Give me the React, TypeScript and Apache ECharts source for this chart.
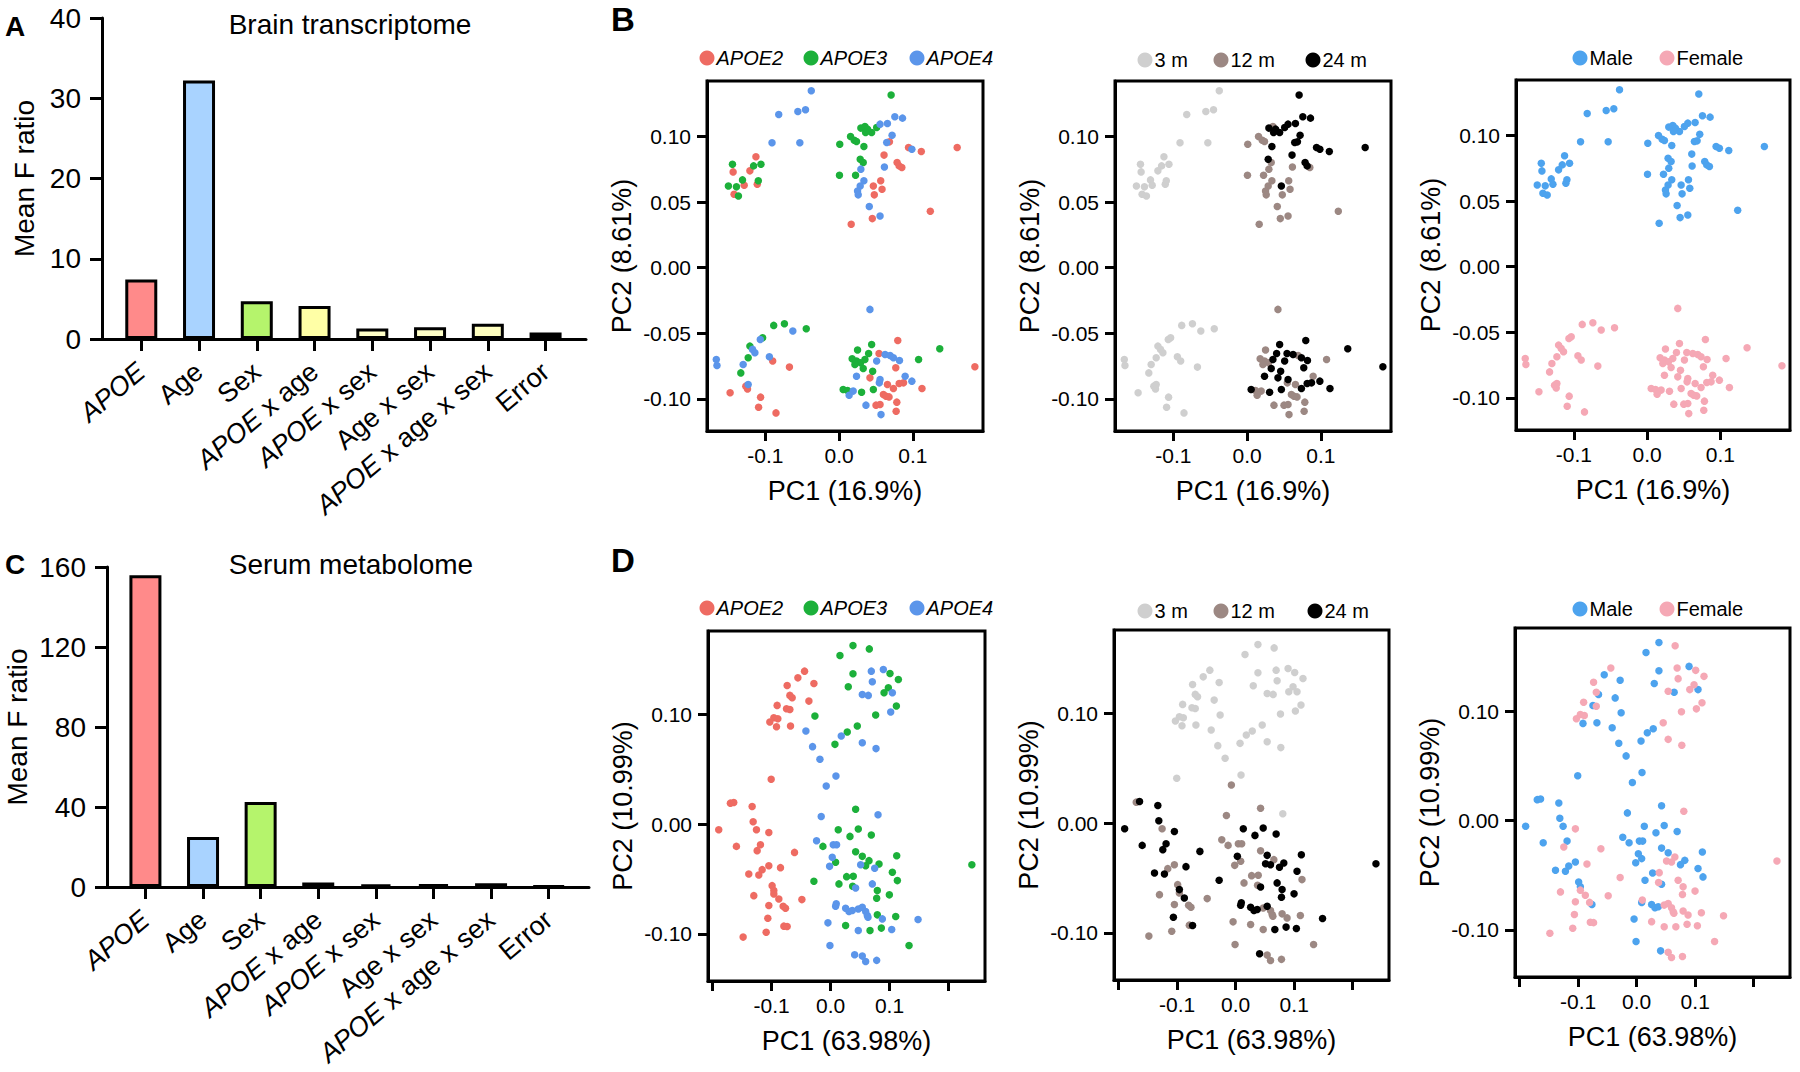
import React, { useEffect, useRef } from "react";
import * as echarts from "echarts";

const FONT = "'Liberation Sans', Arial, Helvetica, sans-serif";

// ---------- Panel A / C data ----------
const factors = ["APOE", "Age", "Sex", "APOE x age", "APOE x sex", "Age x sex", "APOE x age x sex", "Error"];
const brainF = [7.4, 32.2, 4.7, 4.1, 1.3, 1.45, 1.9, 0.8];
const serumF = [155.9, 25.0, 42.5, 2.2, 1.35, 1.4, 1.9, 0.5];
const barColors = ["#FF8A8A", "#A9D3FF", "#B5F46C", "#FFFFA6", "#FFFFC8", "#FFFFC8", "#FFFFC0", "#000000"];
const brainTicks = [0, 10, 20, 30, 40];
const serumTicks = [0, 40, 80, 120, 160];

// ---------- Panel B data: [PC1, PC2, genotype, age (months), sex] ----------
type Sample = [number, number, number, number, string];
const brainSamples: Sample[] = [
  // upper-left cluster
  [-0.0377, 0.1349, 4, 3, "M"], [-0.0818, 0.1168, 4, 3, "M"], [-0.0559, 0.1191, 4, 3, "M"], [-0.0455, 0.1204, 4, 3, "M"],
  [-0.0909, 0.0952, 4, 3, "M"], [-0.0532, 0.0952, 4, 3, "M"], [-0.1445, 0.0789, 3, 3, "M"], [-0.1436, 0.073, 2, 3, "M"],
  [-0.1127, 0.0845, 2, 3, "M"], [-0.1159, 0.0776, 3, 3, "M"], [-0.1059, 0.0789, 3, 3, "M"], [-0.1209, 0.0738, 2, 3, "M"],
  [-0.1309, 0.0669, 3, 3, "M"], [-0.1286, 0.0628, 2, 3, "M"], [-0.15, 0.0623, 3, 3, "M"], [-0.1391, 0.0616, 3, 3, "M"],
  [-0.1423, 0.056, 2, 3, "M"], [-0.1364, 0.0547, 3, 3, "M"], [-0.1095, 0.0662, 3, 3, "M"], [-0.1109, 0.0636, 2, 3, "M"],
  // upper-right cluster
  [0.0705, 0.1316, 3, 24, "M"], [0.0655, 0.1099, 4, 24, "M"], [0.0755, 0.115, 4, 24, "M"], [0.0859, 0.114, 4, 24, "M"],
  [0.0555, 0.1094, 4, 24, "M"], [0.0295, 0.1064, 3, 24, "M"], [0.035, 0.1076, 3, 12, "M"], [0.0386, 0.1056, 3, 24, "M"],
  [0.0441, 0.103, 3, 24, "M"], [0.0509, 0.1069, 3, 24, "M"], [0.0359, 0.103, 3, 24, "M"], [0.0155, 0.1, 3, 12, "M"],
  [0.0205, 0.0972, 3, 12, "M"], [0.0009, 0.0941, 3, 12, "M"], [0.0236, 0.0962, 3, 12, "M"], [0.0336, 0.0924, 3, 24, "M"],
  [0.0718, 0.101, 4, 24, "M"], [0.0682, 0.0959, 2, 24, "M"], [0.0645, 0.0954, 4, 24, "M"], [0.0941, 0.0916, 2, 24, "M"],
  [0.0986, 0.0903, 4, 24, "M"], [0.1114, 0.0885, 2, 24, "M"], [0.16, 0.0916, 2, 24, "M"], [0.0286, 0.0827, 3, 24, "M"],
  [0.0327, 0.0802, 3, 12, "M"], [0.0609, 0.0858, 2, 24, "M"], [0.0786, 0.0802, 2, 24, "M"], [0.0814, 0.0776, 2, 24, "M"],
  [0.085, 0.0763, 2, 12, "M"], [0.0614, 0.0768, 4, 12, "M"], [0.0295, 0.0751, 4, 12, "M"], [0.0005, 0.0705, 3, 12, "M"],
  [0.0223, 0.0705, 3, 12, "M"], [0.0336, 0.0662, 4, 12, "M"], [0.0286, 0.0623, 4, 12, "M"], [0.0564, 0.0662, 2, 12, "M"],
  [0.0464, 0.0623, 2, 24, "M"], [0.0582, 0.0598, 2, 12, "M"], [0.025, 0.0585, 4, 12, "M"], [0.0259, 0.0555, 4, 12, "M"],
  [0.0477, 0.0555, 2, 12, "M"], [0.0409, 0.0466, 4, 12, "M"], [0.045, 0.0374, 2, 12, "M"], [0.0555, 0.0394, 4, 12, "M"],
  [0.0164, 0.0331, 2, 12, "M"], [0.1236, 0.043, 2, 12, "M"],
  // lower-left cluster
  [-0.0886, -0.044, 3, 3, "F"], [-0.0741, -0.0427, 3, 3, "F"], [-0.0627, -0.0483, 4, 3, "F"], [-0.0445, -0.0466, 3, 3, "F"],
  [-0.1036, -0.0534, 3, 3, "F"], [-0.1068, -0.0547, 4, 3, "F"], [-0.1209, -0.0598, 3, 3, "F"], [-0.1173, -0.0623, 4, 3, "F"],
  [-0.1141, -0.0649, 4, 3, "F"], [-0.1232, -0.0687, 3, 3, "F"], [-0.0945, -0.0679, 4, 3, "F"], [-0.09, -0.0712, 2, 3, "F"],
  [-0.0673, -0.0758, 2, 3, "F"], [-0.1664, -0.07, 4, 3, "F"], [-0.1655, -0.0746, 4, 3, "F"], [-0.13, -0.0738, 4, 3, "F"],
  [-0.1332, -0.0802, 3, 3, "F"], [-0.1264, -0.0903, 2, 3, "F"], [-0.1241, -0.0924, 2, 3, "F"], [-0.1232, -0.0891, 4, 3, "F"],
  [-0.1477, -0.0954, 2, 3, "F"], [-0.1064, -0.0987, 2, 3, "F"], [-0.1091, -0.1064, 2, 3, "F"], [-0.0855, -0.1107, 2, 3, "F"],
  // lower-right cluster
  [0.0418, -0.0318, 4, 12, "F"], [0.0441, -0.0585, 3, 24, "F"], [0.0795, -0.0555, 2, 24, "F"], [0.1364, -0.0618, 3, 24, "F"],
  [0.184, -0.0755, 2, 24, "F"], [0.025, -0.0628, 3, 12, "F"], [0.0177, -0.0695, 3, 12, "F"], [0.0236, -0.0712, 3, 12, "F"],
  [0.0291, -0.0725, 3, 12, "F"], [0.035, -0.07, 3, 24, "F"], [0.04, -0.0654, 3, 24, "F"], [0.0214, -0.0738, 3, 12, "F"],
  [0.0327, -0.0768, 3, 24, "F"], [0.0509, -0.0712, 4, 24, "F"], [0.0541, -0.0654, 2, 24, "F"], [0.0623, -0.0662, 4, 24, "F"],
  [0.0691, -0.0669, 4, 12, "F"], [0.0736, -0.0687, 4, 24, "F"], [0.0818, -0.0707, 4, 24, "F"], [0.1077, -0.07, 3, 12, "F"],
  [0.0768, -0.0763, 2, 24, "F"], [0.0455, -0.0789, 3, 24, "F"], [0.0236, -0.0827, 4, 24, "F"], [0.0418, -0.084, 2, 24, "F"],
  [0.0555, -0.0852, 4, 24, "F"], [0.0545, -0.0878, 4, 12, "F"], [0.0655, -0.0891, 2, 12, "F"], [0.0895, -0.0827, 4, 12, "F"],
  [0.0986, -0.0865, 4, 24, "F"], [0.0873, -0.0878, 2, 24, "F"], [0.0814, -0.0883, 2, 24, "F"], [0.1123, -0.0921, 2, 24, "F"],
  [0.0736, -0.0921, 2, 24, "F"], [0.0055, -0.0929, 3, 24, "F"], [0.0114, -0.0936, 3, 12, "F"], [0.0305, -0.0949, 3, 24, "F"],
  [0.0191, -0.0941, 4, 12, "F"], [0.0136, -0.0972, 4, 12, "F"], [0.0464, -0.0929, 3, 24, "F"], [0.06, -0.0967, 2, 12, "F"],
  [0.0636, -0.098, 2, 12, "F"], [0.0677, -0.0985, 2, 12, "F"], [0.05, -0.1048, 2, 12, "F"], [0.0555, -0.1043, 2, 12, "F"],
  [0.0364, -0.1048, 4, 12, "F"], [0.0782, -0.1025, 2, 12, "F"], [0.0773, -0.1094, 2, 12, "F"], [0.0568, -0.112, 4, 12, "F"],
];

// ---------- Panel D data: [PC1, PC2, genotype, age (months), sex] ----------
const serumSamples: Sample[] = [
  // APOE2
  [-0.0442, 0.1394, 2, 3, "F"], [-0.0555, 0.1333, 2, 3, "M"], [-0.0283, 0.1282, 2, 3, "M"], [-0.0737, 0.1264, 2, 3, "F"],
  [-0.0691, 0.1173, 2, 3, "F"], [-0.0652, 0.1152, 2, 3, "M"], [-0.0368, 0.1121, 2, 3, "M"], [-0.0907, 0.1082, 2, 3, "F"],
  [-0.0748, 0.1052, 2, 3, "M"], [-0.0691, 0.1045, 2, 3, "F"], [-0.0963, 0.097, 2, 3, "F"], [-0.0895, 0.0961, 2, 3, "F"],
  [-0.1031, 0.093, 2, 3, "F"], [-0.0918, 0.0888, 2, 3, "M"], [-0.068, 0.0894, 2, 3, "M"], [-0.1008, 0.0409, 2, 3, "M"],
  [-0.17, 0.0191, 2, 12, "M"], [-0.1643, 0.0197, 2, 24, "M"], [-0.1331, 0.0161, 2, 24, "M"], [-0.1898, -0.0052, 2, 24, "M"],
  [-0.1314, 0.0021, 2, 24, "M"], [-0.1258, -0.0052, 2, 12, "M"], [-0.1048, -0.0076, 2, 24, "F"], [-0.1598, -0.0203, 2, 24, "M"],
  [-0.119, -0.0188, 2, 24, "M"], [-0.1246, -0.0242, 2, 24, "F"], [-0.0612, -0.0258, 2, 24, "F"], [-0.1048, -0.0379, 2, 12, "M"],
  [-0.085, -0.0397, 2, 24, "F"], [-0.1161, -0.0415, 2, 12, "M"], [-0.1388, -0.0455, 2, 24, "M"], [-0.1218, -0.0464, 2, 24, "M"],
  [-0.0992, -0.0561, 2, 12, "M"], [-0.0963, -0.0606, 2, 24, "M"], [-0.0963, -0.0636, 2, 12, "F"], [-0.1303, -0.0652, 2, 12, "F"],
  [-0.0878, -0.0682, 2, 24, "F"], [-0.0487, -0.0688, 2, 12, "F"], [-0.1048, -0.0742, 2, 12, "F"], [-0.0805, -0.0748, 2, 12, "F"],
  [-0.0765, -0.0767, 2, 12, "M"], [-0.1065, -0.0858, 2, 24, "F"], [-0.0793, -0.093, 2, 12, "F"], [-0.0737, -0.0933, 2, 24, "F"],
  [-0.1093, -0.0985, 2, 12, "F"], [-0.1484, -0.103, 2, 12, "F"],
  // APOE3
  [0.038, 0.1627, 3, 3, "M"], [0.0657, 0.1597, 3, 3, "F"], [0.0159, 0.1536, 3, 3, "M"], [0.038, 0.137, 3, 3, "M"],
  [0.1008, 0.1373, 3, 3, "F"], [0.115, 0.1318, 3, 3, "F"], [0.03, 0.1252, 3, 3, "M"], [0.098, 0.1242, 3, 3, "F"],
  [0.0907, 0.1197, 3, 3, "F"], [0.1116, 0.1076, 3, 3, "F"], [0.0765, 0.0994, 3, 3, "F"], [-0.0266, 0.0985, 3, 3, "M"],
  [0.0453, 0.0894, 3, 3, "F"], [0.0283, 0.0839, 3, 3, "M"], [0.0074, 0.0727, 3, 3, "M"], [0.0425, 0.0136, 3, 12, "M"],
  [0.013, -0.0052, 3, 24, "M"], [0.047, -0.0045, 3, 24, "M"], [0.0329, -0.0112, 3, 24, "M"], [0.0691, -0.01, 3, 24, "M"],
  [-0.013, -0.0203, 3, 12, "M"], [0.0425, -0.0252, 3, 12, "M"], [0.0538, -0.0294, 3, 24, "M"], [0.0652, -0.0333, 3, 12, "F"],
  [0.0822, -0.0364, 3, 24, "M"], [0.1122, -0.0288, 3, 24, "M"], [0.0085, -0.0348, 3, 12, "M"], [0.0595, -0.0379, 3, 24, "F"],
  [0.2397, -0.037, 3, 24, "F"], [0.1048, -0.0439, 3, 24, "M"], [0.1133, -0.0515, 3, 12, "M"], [-0.0283, -0.0521, 3, 24, "F"],
  [0.0272, -0.0479, 3, 12, "M"], [0.0385, -0.0476, 3, 12, "F"], [0.0142, -0.0545, 3, 12, "M"], [0.0374, -0.0567, 3, 12, "F"],
  [0.0793, -0.0606, 3, 24, "F"], [0.0997, -0.0645, 3, 24, "F"], [0.0782, -0.0676, 3, 24, "F"], [0.0793, -0.0827, 3, 12, "F"],
  [0.1105, -0.0842, 3, 12, "F"], [0.0255, -0.0924, 3, 12, "F"], [0.0861, -0.0948, 3, 24, "F"], [0.0669, -0.097, 3, 24, "F"],
  [0.1331, -0.1106, 3, 12, "F"],
  // APOE4
  [0.0691, 0.1394, 4, 3, "F"], [0.0895, 0.1409, 4, 3, "M"], [0.0708, 0.1297, 4, 3, "F"], [0.0538, 0.1182, 4, 3, "F"],
  [0.064, 0.1173, 4, 3, "M"], [0.1048, 0.1197, 4, 3, "M"], [0.102, 0.1021, 4, 3, "F"], [-0.0419, 0.0848, 4, 3, "M"],
  [0.0181, 0.0803, 4, 3, "M"], [0.0538, 0.0742, 4, 3, "F"], [0.0771, 0.0688, 4, 3, "F"], [-0.0306, 0.0706, 4, 3, "M"],
  [-0.0181, 0.0591, 4, 3, "M"], [0.0091, 0.0439, 4, 3, "M"], [-0.0074, 0.0348, 4, 12, "M"], [-0.0159, 0.007, 4, 12, "M"],
  [0.0805, 0.0085, 4, 3, "F"], [-0.0238, -0.0152, 4, 12, "M"], [0.0045, -0.0188, 4, 12, "M"], [0.0102, -0.0188, 4, 12, "M"],
  [0.0028, -0.0303, 4, 24, "M"], [-0.0017, -0.0385, 4, 12, "M"], [0.051, -0.037, 4, 24, "F"], [0.0748, -0.0403, 4, 24, "M"],
  [0.0425, -0.0582, 4, 24, "M"], [0.0708, -0.0545, 4, 24, "F"], [0.0096, -0.0727, 4, 24, "F"], [0.0085, -0.0748, 4, 24, "M"],
  [0.0255, -0.0767, 4, 24, "M"], [0.0312, -0.0797, 4, 24, "M"], [0.0368, -0.0788, 4, 24, "M"], [0.047, -0.0773, 4, 12, "F"],
  [0.0538, -0.0758, 4, 24, "F"], [0.0595, -0.0797, 4, 12, "F"], [0.0623, -0.0833, 4, 12, "F"], [0.0635, -0.0848, 4, 12, "F"],
  [0.0878, -0.0864, 4, 12, "F"], [0.1484, -0.087, 4, 24, "F"], [-0.0045, -0.09, 4, 12, "M"], [0.1037, -0.0961, 4, 24, "F"],
  [0.047, -0.097, 4, 12, "F"], [-0.0011, -0.1106, 4, 12, "M"], [0.0408, -0.1191, 4, 24, "M"], [0.0538, -0.1203, 4, 12, "F"],
  [0.0595, -0.1252, 4, 12, "F"], [0.0782, -0.1242, 4, 12, "F"],
];

// ---------- groups & colours ----------
const genotypes = [2, 3, 4];
const genotypeNames = ["APOE2", "APOE3", "APOE4"];
const genotypeColors = ["#EE6B62", "#1CB03A", "#5B95EA"];
const ages = [3, 12, 24];
const ageNames = ["3 m", "12 m", "24 m"];
const ageColors = ["#CFCFCF", "#9C8883", "#000000"];
const sexes = ["M", "F"];
const sexNames = ["Male", "Female"];
const sexColors = ["#4DA3EE", "#F5A8B5"];

const brainPC1Ticks = [-0.1, 0, 0.1];
const brainPC2Ticks = [-0.1, -0.05, 0, 0.05, 0.1];
const serumPC1Ticks = [-0.2, -0.1, 0, 0.1, 0.2];
const serumPC1Labels = [-0.1, 0, 0.1];
const serumPC2Ticks = [-0.1, 0, 0.1];

const BLACK = "#000";

function barPanel(gridIndex: number, values: number[], ticks: number[], xMin: number, nameGap: number) {
  const max = ticks[ticks.length - 1];
  const idx = factors.map((_, i) => i);
  const xAxis = {
    type: "value", gridIndex, min: xMin, max: 7.7,
    axisLine: { show: true, onZero: false, lineStyle: { color: BLACK, width: 3 } },
    axisTick: { show: true, length: 12, lineStyle: { color: BLACK, width: 3 }, customValues: idx },
    axisLabel: {
      customValues: idx, rotate: 40, margin: 29, fontSize: 27, color: BLACK, fontFamily: FONT,
      formatter: (v: number) => factors[Math.round(v)].replace("APOE", "{i|APOE}"),
      rich: { i: { fontStyle: "italic", fontSize: 27, color: BLACK, fontFamily: FONT } },
    },
    splitLine: { show: false },
  };
  const yAxis = {
    type: "value", gridIndex, min: 0, max,
    axisLine: { show: true, onZero: false, lineStyle: { color: BLACK, width: 3 } },
    axisTick: { show: true, length: 12, lineStyle: { color: BLACK, width: 3 }, customValues: ticks },
    axisLabel: { customValues: ticks, margin: 21, fontSize: 28, color: BLACK, fontFamily: FONT },
    splitLine: { show: false },
    name: "Mean F ratio", nameLocation: "middle", nameGap,
    nameTextStyle: { fontSize: 28, color: BLACK, fontFamily: FONT },
  };
  const series = {
    type: "bar", xAxisIndex: gridIndex, yAxisIndex: gridIndex, barWidth: 32,
    data: values.map((v, i) => ({ value: [i, v], itemStyle: { color: barColors[i], borderColor: BLACK, borderWidth: 3 } })),
  };
  return { xAxis, yAxis, series };
}

interface ScatterDef {
  grid: { left: number; top: number; width: number; height: number };
  xr: [number, number]; yr: [number, number];
  xTicks: number[]; xLabels: number[]; yTicks: number[]; yDigits: number;
  xName: string; yName: string;
}

function scatterAxes(gridIndex: number, d: ScatterDef) {
  const xAxis = {
    type: "value", gridIndex, min: d.xr[0], max: d.xr[1], position: "bottom",
    axisLine: { show: true, onZero: false, lineStyle: { color: BLACK, width: 3 } },
    axisTick: { show: true, length: 10, lineStyle: { color: BLACK, width: 3 }, customValues: d.xTicks },
    axisLabel: { customValues: d.xLabels, margin: 14, fontSize: 21, color: BLACK, fontFamily: FONT, formatter: (v: number) => v.toFixed(1) },
    splitLine: { show: false },
    name: d.xName, nameLocation: "middle", nameGap: 46,
    nameTextStyle: { fontSize: 27, color: BLACK, fontFamily: FONT },
  };
  const yAxis = {
    type: "value", gridIndex, min: d.yr[0], max: d.yr[1], position: "left",
    axisLine: { show: true, onZero: false, lineStyle: { color: BLACK, width: 3 } },
    axisTick: { show: true, length: 10, lineStyle: { color: BLACK, width: 3 }, customValues: d.yTicks },
    axisLabel: { customValues: d.yTicks, margin: 16, fontSize: 21, color: BLACK, fontFamily: FONT, formatter: (v: number) => v.toFixed(d.yDigits) },
    splitLine: { show: false },
    name: d.yName, nameLocation: "middle", nameGap: 72,
    nameTextStyle: { fontSize: 27, color: BLACK, fontFamily: FONT },
  };
  return { xAxis, yAxis };
}

function scatterSeries(gridIndex: number, samples: Sample[], field: number, keys: (number | string)[], names: string[], colors: string[]) {
  return keys.map((k, i) => ({
    type: "scatter", name: names[i], xAxisIndex: gridIndex, yAxisIndex: gridIndex,
    symbol: "circle", symbolSize: 7.5, itemStyle: { color: colors[i], opacity: 1 },
    data: samples.filter((s) => s[field] === k).map((s) => [s[0], s[1]]),
  }));
}

function legendItem(name: string, cx: number, cy: number, italic: boolean) {
  return {
    data: [name], left: cx - 7.5, top: cy - 10, padding: 0, itemGap: 0,
    itemWidth: 15, itemHeight: 15, icon: "circle", selectedMode: false,
    textStyle: { fontSize: 20, color: BLACK, fontFamily: FONT, fontStyle: italic ? "italic" : "normal", padding: [0, 0, 0, -3] },
  };
}

function buildOption() {
  const A = barPanel(0, brainF, brainTicks, -0.68, 64);
  const C = barPanel(1, serumF, serumTicks, -0.667, 76);

  const bRange = { xr: [-0.179, 0.195] as [number, number], yr: [-0.1245, 0.1423] as [number, number] };
  const dRange = { xr: [-0.208, 0.262] as [number, number], yr: [-0.143, 0.176] as [number, number] };
  const bCommon = { ...bRange, xTicks: brainPC1Ticks, xLabels: brainPC1Ticks, yTicks: brainPC2Ticks, yDigits: 2, xName: "PC1 (16.9%)", yName: "PC2 (8.61%)" };
  const dCommon = { ...dRange, xTicks: serumPC1Ticks, xLabels: serumPC1Labels, yTicks: serumPC2Ticks, yDigits: 2, xName: "PC1 (63.98%)", yName: "PC2 (10.99%)" };

  const scatterDefs: ScatterDef[] = [
    { ...bCommon, grid: { left: 707, top: 81, width: 276, height: 350 } },
    { ...bCommon, grid: { left: 1115, top: 81, width: 276, height: 350 } },
    { ...bCommon, grid: { left: 1516, top: 80, width: 274, height: 350 } },
    { ...dCommon, grid: { left: 708, top: 631, width: 277, height: 350 } },
    { ...dCommon, grid: { left: 1114, top: 630, width: 275, height: 350 } },
    { ...dCommon, grid: { left: 1515, top: 628, width: 275, height: 349 } },
  ];

  const grids: any[] = [
    { left: 102, top: 18, width: 484, height: 321, show: false },
    { left: 107, top: 567, width: 482, height: 320, show: false },
    ...scatterDefs.map((d) => ({ ...d.grid, show: true, borderColor: BLACK, borderWidth: 3, backgroundColor: "transparent" })),
  ];

  const xAxes: any[] = [A.xAxis, C.xAxis];
  const yAxes: any[] = [A.yAxis, C.yAxis];
  scatterDefs.forEach((d, i) => {
    const ax = scatterAxes(i + 2, d);
    xAxes.push(ax.xAxis);
    yAxes.push(ax.yAxis);
  });

  const series: any[] = [
    A.series, C.series,
    ...scatterSeries(2, brainSamples, 2, genotypes, genotypeNames, genotypeColors),
    ...scatterSeries(3, brainSamples, 3, ages, ageNames, ageColors),
    ...scatterSeries(4, brainSamples, 4, sexes, sexNames, sexColors),
    ...scatterSeries(5, serumSamples, 2, genotypes, genotypeNames, genotypeColors),
    ...scatterSeries(6, serumSamples, 3, ages, ageNames, ageColors),
    ...scatterSeries(7, serumSamples, 4, sexes, sexNames, sexColors),
  ];

  const legend = [
    legendItem("APOE2", 707, 58, true), legendItem("APOE3", 811, 58, true), legendItem("APOE4", 917, 58, true),
    legendItem("3 m", 1145, 60, false), legendItem("12 m", 1221, 60, false), legendItem("24 m", 1313, 60, false),
    legendItem("Male", 1580, 58, false), legendItem("Female", 1667, 58, false),
    legendItem("APOE2", 707, 608, true), legendItem("APOE3", 811, 608, true), legendItem("APOE4", 917, 608, true),
    legendItem("3 m", 1145, 611, false), legendItem("12 m", 1221, 611, false), legendItem("24 m", 1315, 611, false),
    legendItem("Male", 1580, 609, false), legendItem("Female", 1667, 609, false),
  ];

  const title = [
    { text: "A", left: 5, top: 12, padding: 0, textStyle: { fontSize: 28, fontWeight: "bold", color: BLACK, fontFamily: FONT } },
    { text: "C", left: 5, top: 550, padding: 0, textStyle: { fontSize: 28, fontWeight: "bold", color: BLACK, fontFamily: FONT } },
    { text: "B", left: 611, top: 3, padding: 0, textStyle: { fontSize: 33, fontWeight: "bold", color: BLACK, fontFamily: FONT } },
    { text: "D", left: 611, top: 544, padding: 0, textStyle: { fontSize: 33, fontWeight: "bold", color: BLACK, fontFamily: FONT } },
    { text: "Brain transcriptome", left: 350, top: 10, textAlign: "center", padding: 0, textStyle: { fontSize: 28, fontWeight: "normal", color: BLACK, fontFamily: FONT } },
    { text: "Serum metabolome", left: 351, top: 550, textAlign: "center", padding: 0, textStyle: { fontSize: 28, fontWeight: "normal", color: BLACK, fontFamily: FONT } },
  ];

  return {
    animation: false,
    backgroundColor: "#fff",
    textStyle: { fontFamily: FONT },
    title, legend, grid: grids, xAxis: xAxes, yAxis: yAxes, series,
  };
}

export default function App() {
  const ref = useRef<HTMLDivElement>(null);
  useEffect(() => {
    document.body.style.margin = "0";
    const chart = echarts.init(ref.current!, null, { renderer: "svg" });
    chart.setOption(buildOption() as any);
    return () => chart.dispose();
  }, []);
  return <div ref={ref} style={{ width: 1800, height: 1072, background: "#fff" }} />;
}
